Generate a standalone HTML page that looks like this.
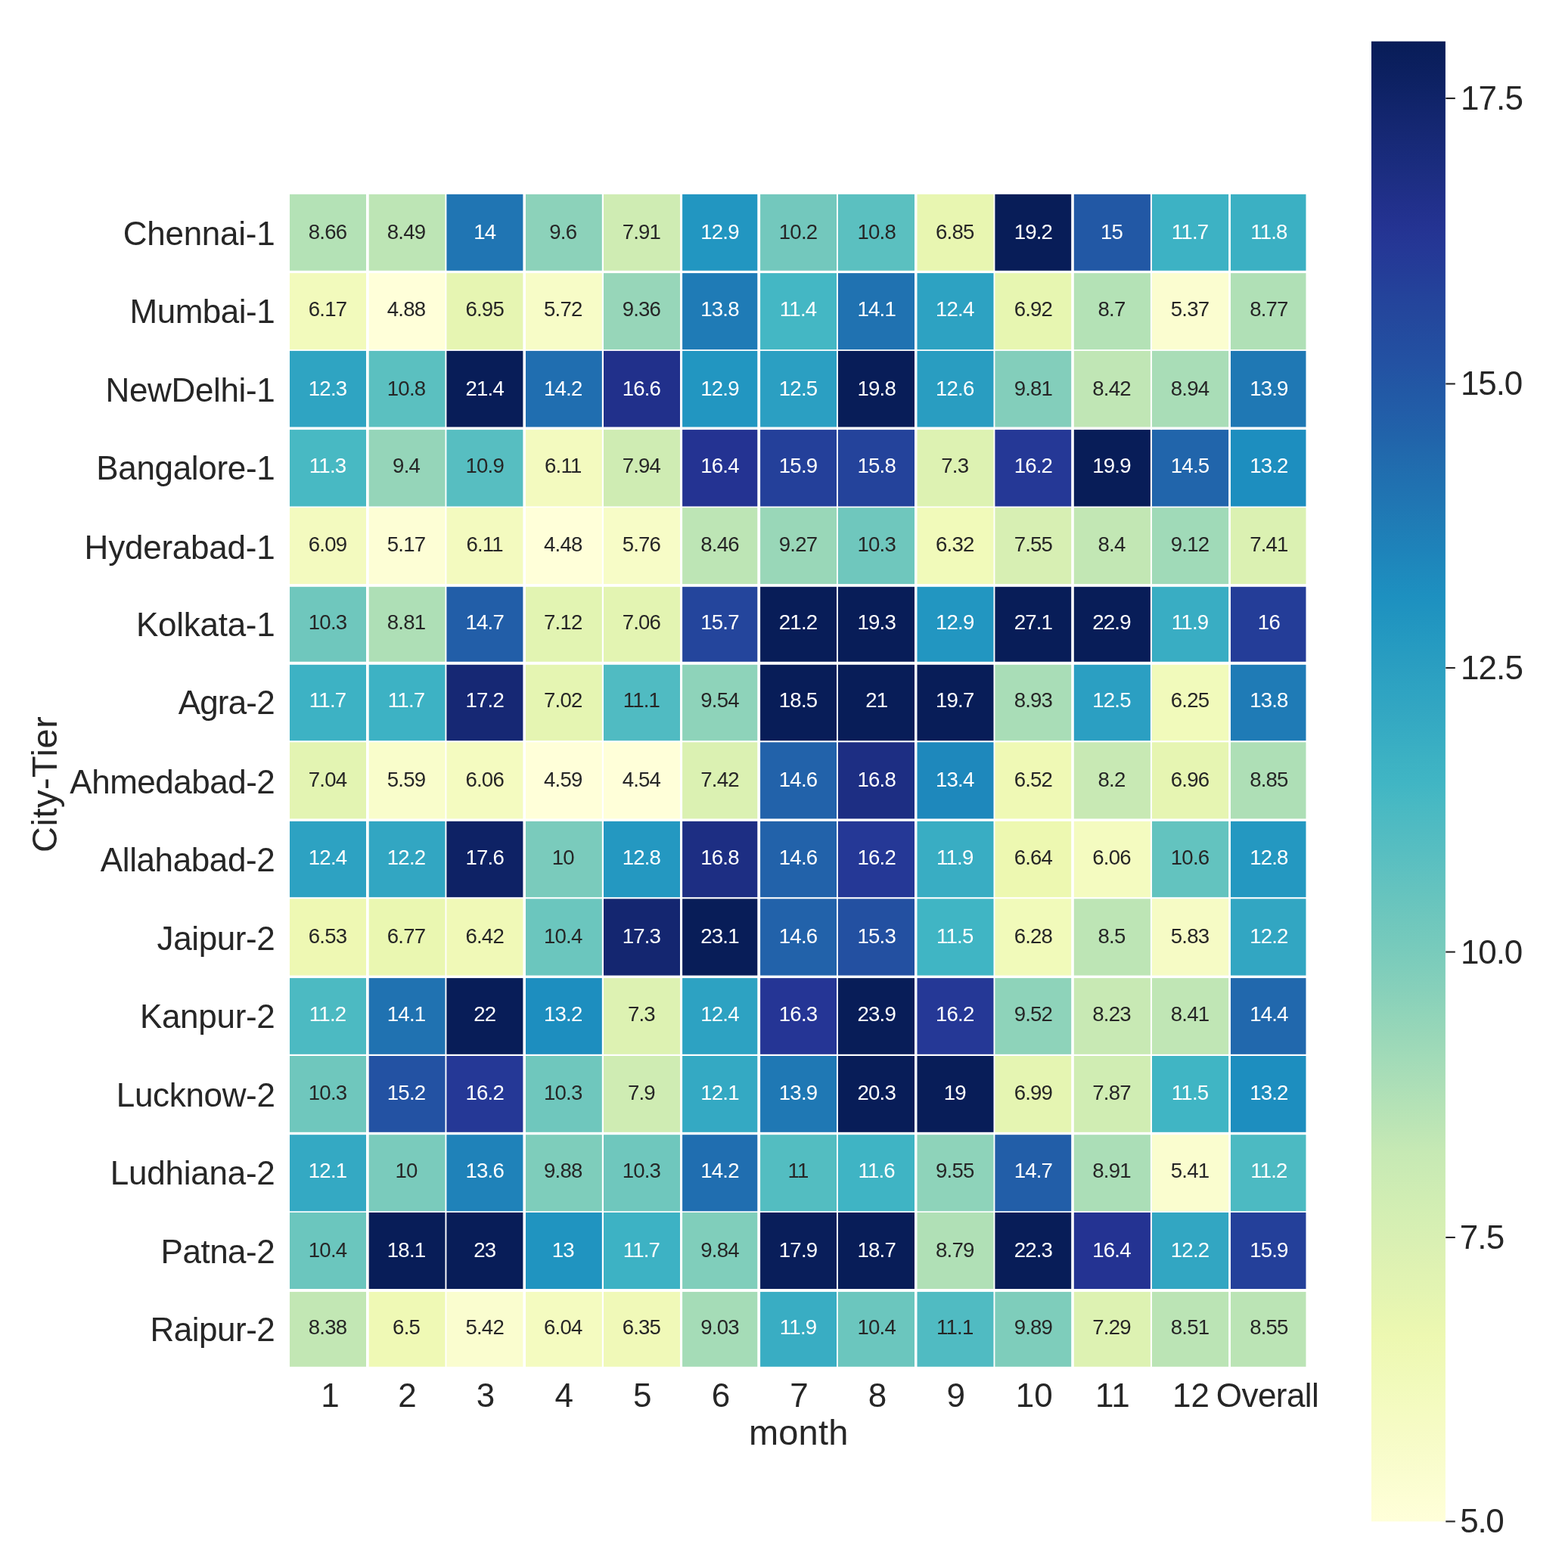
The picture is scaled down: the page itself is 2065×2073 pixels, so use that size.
<!DOCTYPE html>
<html lang="en"><head><meta charset="utf-8"><title>City-Tier by month heatmap</title>
<style>
html,body{margin:0;padding:0;background:#ffffff;}
body{width:2065px;height:2073px;overflow:hidden;font-family:"Liberation Sans", sans-serif;}
svg{display:block;}
</style></head><body>
<svg width="2065" height="2073" viewBox="0 0 2065 2073" font-family='"Liberation Sans", sans-serif'>
<rect width="2065" height="2073" fill="#ffffff"/>
<g>
<rect x="383.00" y="256.85" width="101.00" height="100.95" fill="#b4e2b6"/>
<rect x="487.70" y="256.85" width="100.80" height="100.95" fill="#bde5b5"/>
<rect x="590.40" y="256.85" width="101.00" height="100.95" fill="#2075b3"/>
<rect x="695.00" y="256.85" width="100.80" height="100.95" fill="#8cd2ba"/>
<rect x="798.00" y="256.85" width="101.00" height="100.95" fill="#cfecb3"/>
<rect x="902.10" y="256.85" width="99.20" height="100.95" fill="#2296c1"/>
<rect x="1005.10" y="256.85" width="100.90" height="100.95" fill="#73c8bd"/>
<rect x="1107.90" y="256.85" width="101.10" height="100.95" fill="#5bc0c0"/>
<rect x="1212.50" y="256.85" width="101.00" height="100.95" fill="#e8f6b1"/>
<rect x="1315.40" y="256.85" width="100.80" height="100.95" fill="#081d58"/>
<rect x="1419.80" y="256.85" width="101.10" height="100.95" fill="#2258a5"/>
<rect x="1523.00" y="256.85" width="101.10" height="100.95" fill="#3db2c4"/>
<rect x="1627.00" y="256.85" width="99.50" height="100.95" fill="#3bb0c3"/>
<rect x="383.00" y="361.10" width="101.00" height="101.00" fill="#f2fabc"/>
<rect x="487.70" y="361.10" width="100.80" height="101.00" fill="#ffffd9"/>
<rect x="590.40" y="361.10" width="101.00" height="101.00" fill="#e6f5b2"/>
<rect x="695.00" y="361.10" width="100.80" height="101.00" fill="#f7fcc7"/>
<rect x="798.00" y="361.10" width="101.00" height="101.00" fill="#97d6b9"/>
<rect x="902.10" y="361.10" width="99.20" height="101.00" fill="#1f7bb6"/>
<rect x="1005.10" y="361.10" width="100.90" height="101.00" fill="#44b7c4"/>
<rect x="1107.90" y="361.10" width="101.10" height="101.00" fill="#2072b1"/>
<rect x="1212.50" y="361.10" width="101.00" height="101.00" fill="#2da2c2"/>
<rect x="1315.40" y="361.10" width="100.80" height="101.00" fill="#e7f6b1"/>
<rect x="1419.80" y="361.10" width="101.10" height="101.00" fill="#b4e2b6"/>
<rect x="1523.00" y="361.10" width="101.10" height="101.00" fill="#fbfdd0"/>
<rect x="1627.00" y="361.10" width="99.50" height="101.00" fill="#b0e0b6"/>
<rect x="383.00" y="463.90" width="101.00" height="100.60" fill="#2fa4c2"/>
<rect x="487.70" y="463.90" width="100.80" height="100.60" fill="#5bc0c0"/>
<rect x="590.40" y="463.90" width="101.00" height="100.60" fill="#081d58"/>
<rect x="695.00" y="463.90" width="100.80" height="100.60" fill="#206eb0"/>
<rect x="798.00" y="463.90" width="101.00" height="100.60" fill="#21308b"/>
<rect x="902.10" y="463.90" width="99.20" height="100.60" fill="#2296c1"/>
<rect x="1005.10" y="463.90" width="100.90" height="100.60" fill="#2b9fc2"/>
<rect x="1107.90" y="463.90" width="101.10" height="100.60" fill="#081d58"/>
<rect x="1212.50" y="463.90" width="101.00" height="100.60" fill="#299dc1"/>
<rect x="1315.40" y="463.90" width="100.80" height="100.60" fill="#83cebb"/>
<rect x="1419.80" y="463.90" width="101.10" height="100.60" fill="#c0e6b5"/>
<rect x="1523.00" y="463.90" width="101.10" height="100.60" fill="#a9ddb7"/>
<rect x="1627.00" y="463.90" width="99.50" height="100.60" fill="#1f78b4"/>
<rect x="383.00" y="568.10" width="101.00" height="101.40" fill="#48b9c3"/>
<rect x="487.70" y="568.10" width="100.80" height="101.40" fill="#95d5b9"/>
<rect x="590.40" y="568.10" width="101.00" height="101.40" fill="#57bec1"/>
<rect x="695.00" y="568.10" width="100.80" height="101.40" fill="#f3fabf"/>
<rect x="798.00" y="568.10" width="101.00" height="101.40" fill="#cfecb3"/>
<rect x="902.10" y="568.10" width="99.20" height="101.40" fill="#243392"/>
<rect x="1005.10" y="568.10" width="100.90" height="101.40" fill="#24409a"/>
<rect x="1107.90" y="568.10" width="101.10" height="101.40" fill="#24439b"/>
<rect x="1212.50" y="568.10" width="101.00" height="101.40" fill="#ddf2b2"/>
<rect x="1315.40" y="568.10" width="100.80" height="101.40" fill="#253896"/>
<rect x="1419.80" y="568.10" width="101.10" height="101.40" fill="#081d58"/>
<rect x="1523.00" y="568.10" width="101.10" height="101.40" fill="#2165ab"/>
<rect x="1627.00" y="568.10" width="99.50" height="101.40" fill="#1d8ebf"/>
<rect x="383.00" y="671.20" width="101.00" height="100.90" fill="#f3fabf"/>
<rect x="487.70" y="671.20" width="100.80" height="100.90" fill="#fdfed5"/>
<rect x="590.40" y="671.20" width="101.00" height="100.90" fill="#f3fabf"/>
<rect x="695.00" y="671.20" width="100.80" height="100.90" fill="#ffffd9"/>
<rect x="798.00" y="671.20" width="101.00" height="100.90" fill="#f7fcc7"/>
<rect x="902.10" y="671.20" width="99.20" height="100.90" fill="#bde5b5"/>
<rect x="1005.10" y="671.20" width="100.90" height="100.90" fill="#99d7b8"/>
<rect x="1107.90" y="671.20" width="101.10" height="100.90" fill="#6fc7bd"/>
<rect x="1212.50" y="671.20" width="101.00" height="100.90" fill="#f1faba"/>
<rect x="1315.40" y="671.20" width="100.80" height="100.90" fill="#d7efb3"/>
<rect x="1419.80" y="671.20" width="101.10" height="100.90" fill="#c2e7b4"/>
<rect x="1523.00" y="671.20" width="101.10" height="100.90" fill="#a0dab8"/>
<rect x="1627.00" y="671.20" width="99.50" height="100.90" fill="#dbf1b2"/>
<rect x="383.00" y="775.80" width="101.00" height="99.00" fill="#6fc7bd"/>
<rect x="487.70" y="775.80" width="100.80" height="99.00" fill="#aedfb6"/>
<rect x="590.40" y="775.80" width="101.00" height="99.00" fill="#225ea8"/>
<rect x="695.00" y="775.80" width="100.80" height="99.00" fill="#e2f4b2"/>
<rect x="798.00" y="775.80" width="101.00" height="99.00" fill="#e3f4b2"/>
<rect x="902.10" y="775.80" width="99.20" height="99.00" fill="#24459c"/>
<rect x="1005.10" y="775.80" width="100.90" height="99.00" fill="#081d58"/>
<rect x="1107.90" y="775.80" width="101.10" height="99.00" fill="#081d58"/>
<rect x="1212.50" y="775.80" width="101.00" height="99.00" fill="#2296c1"/>
<rect x="1315.40" y="775.80" width="100.80" height="99.00" fill="#081d58"/>
<rect x="1419.80" y="775.80" width="101.10" height="99.00" fill="#081d58"/>
<rect x="1523.00" y="775.80" width="101.10" height="99.00" fill="#39adc3"/>
<rect x="1627.00" y="775.80" width="99.50" height="99.00" fill="#243d98"/>
<rect x="383.00" y="878.80" width="101.00" height="100.40" fill="#3db2c4"/>
<rect x="487.70" y="878.80" width="100.80" height="100.40" fill="#3db2c4"/>
<rect x="590.40" y="878.80" width="101.00" height="100.40" fill="#162874"/>
<rect x="695.00" y="878.80" width="100.80" height="100.40" fill="#e5f5b2"/>
<rect x="798.00" y="878.80" width="101.00" height="100.40" fill="#50bbc2"/>
<rect x="902.10" y="878.80" width="99.20" height="100.40" fill="#8ed3ba"/>
<rect x="1005.10" y="878.80" width="100.90" height="100.40" fill="#081d58"/>
<rect x="1107.90" y="878.80" width="101.10" height="100.40" fill="#081d58"/>
<rect x="1212.50" y="878.80" width="101.00" height="100.40" fill="#081d58"/>
<rect x="1315.40" y="878.80" width="100.80" height="100.40" fill="#a9ddb7"/>
<rect x="1419.80" y="878.80" width="101.10" height="100.40" fill="#2b9fc2"/>
<rect x="1523.00" y="878.80" width="101.10" height="100.40" fill="#f1fabb"/>
<rect x="1627.00" y="878.80" width="99.50" height="100.40" fill="#1f7bb6"/>
<rect x="383.00" y="981.30" width="101.00" height="101.10" fill="#e3f4b2"/>
<rect x="487.70" y="981.30" width="100.80" height="101.10" fill="#f9fdcb"/>
<rect x="590.40" y="981.30" width="101.00" height="101.10" fill="#f4fbc0"/>
<rect x="695.00" y="981.30" width="100.80" height="101.10" fill="#ffffd9"/>
<rect x="798.00" y="981.30" width="101.00" height="101.10" fill="#ffffd9"/>
<rect x="902.10" y="981.30" width="99.20" height="101.10" fill="#dbf1b2"/>
<rect x="1005.10" y="981.30" width="100.90" height="101.10" fill="#2262aa"/>
<rect x="1107.90" y="981.30" width="101.10" height="101.10" fill="#1d2e83"/>
<rect x="1212.50" y="981.30" width="101.00" height="101.10" fill="#1e88bc"/>
<rect x="1315.40" y="981.30" width="100.80" height="101.10" fill="#eff9b5"/>
<rect x="1419.80" y="981.30" width="101.10" height="101.10" fill="#c8e9b4"/>
<rect x="1523.00" y="981.30" width="101.10" height="101.10" fill="#e6f5b2"/>
<rect x="1627.00" y="981.30" width="99.50" height="101.10" fill="#aedfb6"/>
<rect x="383.00" y="1085.80" width="101.00" height="100.40" fill="#2da2c2"/>
<rect x="487.70" y="1085.80" width="100.80" height="100.40" fill="#32a6c2"/>
<rect x="590.40" y="1085.80" width="101.00" height="100.40" fill="#0e2265"/>
<rect x="695.00" y="1085.80" width="100.80" height="100.40" fill="#7acbbc"/>
<rect x="798.00" y="1085.80" width="101.00" height="100.40" fill="#2498c1"/>
<rect x="902.10" y="1085.80" width="99.20" height="100.40" fill="#1d2e83"/>
<rect x="1005.10" y="1085.80" width="100.90" height="100.40" fill="#2262aa"/>
<rect x="1107.90" y="1085.80" width="101.10" height="100.40" fill="#253896"/>
<rect x="1212.50" y="1085.80" width="101.00" height="100.40" fill="#39adc3"/>
<rect x="1315.40" y="1085.80" width="100.80" height="100.40" fill="#edf8b1"/>
<rect x="1419.80" y="1085.80" width="101.10" height="100.40" fill="#f4fbc0"/>
<rect x="1523.00" y="1085.80" width="101.10" height="100.40" fill="#63c3bf"/>
<rect x="1627.00" y="1085.80" width="99.50" height="100.40" fill="#2498c1"/>
<rect x="383.00" y="1188.30" width="101.00" height="101.30" fill="#eef8b3"/>
<rect x="487.70" y="1188.30" width="100.80" height="101.30" fill="#eaf7b1"/>
<rect x="590.40" y="1188.30" width="101.00" height="101.30" fill="#f0f9b7"/>
<rect x="695.00" y="1188.30" width="100.80" height="101.30" fill="#6bc6be"/>
<rect x="798.00" y="1188.30" width="101.00" height="101.30" fill="#142670"/>
<rect x="902.10" y="1188.30" width="99.20" height="101.30" fill="#081d58"/>
<rect x="1005.10" y="1188.30" width="100.90" height="101.30" fill="#2262aa"/>
<rect x="1107.90" y="1188.30" width="101.10" height="101.30" fill="#2350a1"/>
<rect x="1212.50" y="1188.30" width="101.00" height="101.30" fill="#40b5c4"/>
<rect x="1315.40" y="1188.30" width="100.80" height="101.30" fill="#f1faba"/>
<rect x="1419.80" y="1188.30" width="101.10" height="101.30" fill="#bde5b5"/>
<rect x="1523.00" y="1188.30" width="101.10" height="101.30" fill="#f6fbc5"/>
<rect x="1627.00" y="1188.30" width="99.50" height="101.30" fill="#32a6c2"/>
<rect x="383.00" y="1293.10" width="101.00" height="100.70" fill="#4cbac2"/>
<rect x="487.70" y="1293.10" width="100.80" height="100.70" fill="#2072b1"/>
<rect x="590.40" y="1293.10" width="101.00" height="100.70" fill="#081d58"/>
<rect x="695.00" y="1293.10" width="100.80" height="100.70" fill="#1d8ebf"/>
<rect x="798.00" y="1293.10" width="101.00" height="100.70" fill="#ddf2b2"/>
<rect x="902.10" y="1293.10" width="99.20" height="100.70" fill="#2da2c2"/>
<rect x="1005.10" y="1293.10" width="100.90" height="100.70" fill="#253595"/>
<rect x="1107.90" y="1293.10" width="101.10" height="100.70" fill="#081d58"/>
<rect x="1212.50" y="1293.10" width="101.00" height="100.70" fill="#253896"/>
<rect x="1315.40" y="1293.10" width="100.80" height="100.70" fill="#8ed3ba"/>
<rect x="1419.80" y="1293.10" width="101.10" height="100.70" fill="#c8e9b4"/>
<rect x="1523.00" y="1293.10" width="101.10" height="100.70" fill="#c0e6b5"/>
<rect x="1627.00" y="1293.10" width="99.50" height="100.70" fill="#2168ad"/>
<rect x="383.00" y="1396.00" width="101.00" height="100.80" fill="#6fc7bd"/>
<rect x="487.70" y="1396.00" width="100.80" height="100.80" fill="#2352a3"/>
<rect x="590.40" y="1396.00" width="101.00" height="100.80" fill="#253896"/>
<rect x="695.00" y="1396.00" width="100.80" height="100.80" fill="#6fc7bd"/>
<rect x="798.00" y="1396.00" width="101.00" height="100.80" fill="#cfecb3"/>
<rect x="902.10" y="1396.00" width="99.20" height="100.80" fill="#34a9c3"/>
<rect x="1005.10" y="1396.00" width="100.90" height="100.80" fill="#1f78b4"/>
<rect x="1107.90" y="1396.00" width="101.10" height="100.80" fill="#081d58"/>
<rect x="1212.50" y="1396.00" width="101.00" height="100.80" fill="#081d58"/>
<rect x="1315.40" y="1396.00" width="100.80" height="100.80" fill="#e5f5b2"/>
<rect x="1419.80" y="1396.00" width="101.10" height="100.80" fill="#d0edb3"/>
<rect x="1523.00" y="1396.00" width="101.10" height="100.80" fill="#40b5c4"/>
<rect x="1627.00" y="1396.00" width="99.50" height="100.80" fill="#1d8ebf"/>
<rect x="383.00" y="1500.20" width="101.00" height="101.10" fill="#34a9c3"/>
<rect x="487.70" y="1500.20" width="100.80" height="101.10" fill="#7acbbc"/>
<rect x="590.40" y="1500.20" width="101.00" height="101.10" fill="#1f82b9"/>
<rect x="695.00" y="1500.20" width="100.80" height="101.10" fill="#7ecdbb"/>
<rect x="798.00" y="1500.20" width="101.00" height="101.10" fill="#6fc7bd"/>
<rect x="902.10" y="1500.20" width="99.20" height="101.10" fill="#206eb0"/>
<rect x="1005.10" y="1500.20" width="100.90" height="101.10" fill="#53bdc1"/>
<rect x="1107.90" y="1500.20" width="101.10" height="101.10" fill="#3fb4c4"/>
<rect x="1212.50" y="1500.20" width="101.00" height="101.10" fill="#8ed3ba"/>
<rect x="1315.40" y="1500.20" width="100.80" height="101.10" fill="#225ea8"/>
<rect x="1419.80" y="1500.20" width="101.10" height="101.10" fill="#abdeb7"/>
<rect x="1523.00" y="1500.20" width="101.10" height="101.10" fill="#fafdcf"/>
<rect x="1627.00" y="1500.20" width="99.50" height="101.10" fill="#4cbac2"/>
<rect x="383.00" y="1603.00" width="101.00" height="101.00" fill="#6bc6be"/>
<rect x="487.70" y="1603.00" width="100.80" height="101.00" fill="#081d58"/>
<rect x="590.40" y="1603.00" width="101.00" height="101.00" fill="#081d58"/>
<rect x="695.00" y="1603.00" width="100.80" height="101.00" fill="#2094c0"/>
<rect x="798.00" y="1603.00" width="101.00" height="101.00" fill="#3db2c4"/>
<rect x="902.10" y="1603.00" width="99.20" height="101.00" fill="#80cebb"/>
<rect x="1005.10" y="1603.00" width="100.90" height="101.00" fill="#091e5a"/>
<rect x="1107.90" y="1603.00" width="101.10" height="101.00" fill="#081d58"/>
<rect x="1212.50" y="1603.00" width="101.00" height="101.00" fill="#b0e0b6"/>
<rect x="1315.40" y="1603.00" width="100.80" height="101.00" fill="#081d58"/>
<rect x="1419.80" y="1603.00" width="101.10" height="101.00" fill="#243392"/>
<rect x="1523.00" y="1603.00" width="101.10" height="101.00" fill="#32a6c2"/>
<rect x="1627.00" y="1603.00" width="99.50" height="101.00" fill="#24409a"/>
<rect x="383.00" y="1707.90" width="101.00" height="98.95" fill="#c2e7b4"/>
<rect x="487.70" y="1707.90" width="100.80" height="98.95" fill="#eff9b5"/>
<rect x="590.40" y="1707.90" width="101.00" height="98.95" fill="#fafdcf"/>
<rect x="695.00" y="1707.90" width="100.80" height="98.95" fill="#f4fbc0"/>
<rect x="798.00" y="1707.90" width="101.00" height="98.95" fill="#f0f9b8"/>
<rect x="902.10" y="1707.90" width="99.20" height="98.95" fill="#a5dcb7"/>
<rect x="1005.10" y="1707.90" width="100.90" height="98.95" fill="#39adc3"/>
<rect x="1107.90" y="1707.90" width="101.10" height="98.95" fill="#6bc6be"/>
<rect x="1212.50" y="1707.90" width="101.00" height="98.95" fill="#50bbc2"/>
<rect x="1315.40" y="1707.90" width="100.80" height="98.95" fill="#7ecdbb"/>
<rect x="1419.80" y="1707.90" width="101.10" height="98.95" fill="#ddf2b2"/>
<rect x="1523.00" y="1707.90" width="101.10" height="98.95" fill="#bbe4b5"/>
<rect x="1627.00" y="1707.90" width="99.50" height="98.95" fill="#bbe4b5"/>
</g>
<g font-size="27.6" text-anchor="middle" letter-spacing="-0.8">
<text x="433.10" y="315.50" fill="#262626">8.66</text>
<text x="537.10" y="315.50" fill="#262626">8.49</text>
<text x="640.70" y="315.50" fill="#ffffff">14</text>
<text x="744.30" y="315.50" fill="#262626">9.6</text>
<text x="847.90" y="315.50" fill="#262626">7.91</text>
<text x="951.50" y="315.50" fill="#ffffff">12.9</text>
<text x="1055.10" y="315.50" fill="#262626">10.2</text>
<text x="1158.70" y="315.50" fill="#262626">10.8</text>
<text x="1262.30" y="315.50" fill="#262626">6.85</text>
<text x="1365.90" y="315.50" fill="#ffffff">19.2</text>
<text x="1469.50" y="315.50" fill="#ffffff">15</text>
<text x="1573.10" y="315.50" fill="#ffffff">11.7</text>
<text x="1677.40" y="315.50" fill="#ffffff">11.8</text>
<text x="433.10" y="417.80" fill="#262626">6.17</text>
<text x="537.10" y="417.80" fill="#262626">4.88</text>
<text x="640.70" y="417.80" fill="#262626">6.95</text>
<text x="744.30" y="417.80" fill="#262626">5.72</text>
<text x="847.90" y="417.80" fill="#262626">9.36</text>
<text x="951.50" y="417.80" fill="#ffffff">13.8</text>
<text x="1055.10" y="417.80" fill="#ffffff">11.4</text>
<text x="1158.70" y="417.80" fill="#ffffff">14.1</text>
<text x="1262.30" y="417.80" fill="#ffffff">12.4</text>
<text x="1365.90" y="417.80" fill="#262626">6.92</text>
<text x="1469.50" y="417.80" fill="#262626">8.7</text>
<text x="1573.10" y="417.80" fill="#262626">5.37</text>
<text x="1677.40" y="417.80" fill="#262626">8.77</text>
<text x="433.10" y="522.90" fill="#ffffff">12.3</text>
<text x="537.10" y="522.90" fill="#262626">10.8</text>
<text x="640.70" y="522.90" fill="#ffffff">21.4</text>
<text x="744.30" y="522.90" fill="#ffffff">14.2</text>
<text x="847.90" y="522.90" fill="#ffffff">16.6</text>
<text x="951.50" y="522.90" fill="#ffffff">12.9</text>
<text x="1055.10" y="522.90" fill="#ffffff">12.5</text>
<text x="1158.70" y="522.90" fill="#ffffff">19.8</text>
<text x="1262.30" y="522.90" fill="#ffffff">12.6</text>
<text x="1365.90" y="522.90" fill="#262626">9.81</text>
<text x="1469.50" y="522.90" fill="#262626">8.42</text>
<text x="1573.10" y="522.90" fill="#262626">8.94</text>
<text x="1677.40" y="522.90" fill="#ffffff">13.9</text>
<text x="433.10" y="624.80" fill="#ffffff">11.3</text>
<text x="537.10" y="624.80" fill="#262626">9.4</text>
<text x="640.70" y="624.80" fill="#262626">10.9</text>
<text x="744.30" y="624.80" fill="#262626">6.11</text>
<text x="847.90" y="624.80" fill="#262626">7.94</text>
<text x="951.50" y="624.80" fill="#ffffff">16.4</text>
<text x="1055.10" y="624.80" fill="#ffffff">15.9</text>
<text x="1158.70" y="624.80" fill="#ffffff">15.8</text>
<text x="1262.30" y="624.80" fill="#262626">7.3</text>
<text x="1365.90" y="624.80" fill="#ffffff">16.2</text>
<text x="1469.50" y="624.80" fill="#ffffff">19.9</text>
<text x="1573.10" y="624.80" fill="#ffffff">14.5</text>
<text x="1677.40" y="624.80" fill="#ffffff">13.2</text>
<text x="433.10" y="729.40" fill="#262626">6.09</text>
<text x="537.10" y="729.40" fill="#262626">5.17</text>
<text x="640.70" y="729.40" fill="#262626">6.11</text>
<text x="744.30" y="729.40" fill="#262626">4.48</text>
<text x="847.90" y="729.40" fill="#262626">5.76</text>
<text x="951.50" y="729.40" fill="#262626">8.46</text>
<text x="1055.10" y="729.40" fill="#262626">9.27</text>
<text x="1158.70" y="729.40" fill="#262626">10.3</text>
<text x="1262.30" y="729.40" fill="#262626">6.32</text>
<text x="1365.90" y="729.40" fill="#262626">7.55</text>
<text x="1469.50" y="729.40" fill="#262626">8.4</text>
<text x="1573.10" y="729.40" fill="#262626">9.12</text>
<text x="1677.40" y="729.40" fill="#262626">7.41</text>
<text x="433.10" y="832.30" fill="#262626">10.3</text>
<text x="537.10" y="832.30" fill="#262626">8.81</text>
<text x="640.70" y="832.30" fill="#ffffff">14.7</text>
<text x="744.30" y="832.30" fill="#262626">7.12</text>
<text x="847.90" y="832.30" fill="#262626">7.06</text>
<text x="951.50" y="832.30" fill="#ffffff">15.7</text>
<text x="1055.10" y="832.30" fill="#ffffff">21.2</text>
<text x="1158.70" y="832.30" fill="#ffffff">19.3</text>
<text x="1262.30" y="832.30" fill="#ffffff">12.9</text>
<text x="1365.90" y="832.30" fill="#ffffff">27.1</text>
<text x="1469.50" y="832.30" fill="#ffffff">22.9</text>
<text x="1573.10" y="832.30" fill="#ffffff">11.9</text>
<text x="1677.40" y="832.30" fill="#ffffff">16</text>
<text x="433.10" y="935.40" fill="#ffffff">11.7</text>
<text x="537.10" y="935.40" fill="#ffffff">11.7</text>
<text x="640.70" y="935.40" fill="#ffffff">17.2</text>
<text x="744.30" y="935.40" fill="#262626">7.02</text>
<text x="847.90" y="935.40" fill="#262626">11.1</text>
<text x="951.50" y="935.40" fill="#262626">9.54</text>
<text x="1055.10" y="935.40" fill="#ffffff">18.5</text>
<text x="1158.70" y="935.40" fill="#ffffff">21</text>
<text x="1262.30" y="935.40" fill="#ffffff">19.7</text>
<text x="1365.90" y="935.40" fill="#262626">8.93</text>
<text x="1469.50" y="935.40" fill="#ffffff">12.5</text>
<text x="1573.10" y="935.40" fill="#262626">6.25</text>
<text x="1677.40" y="935.40" fill="#ffffff">13.8</text>
<text x="433.10" y="1039.90" fill="#262626">7.04</text>
<text x="537.10" y="1039.90" fill="#262626">5.59</text>
<text x="640.70" y="1039.90" fill="#262626">6.06</text>
<text x="744.30" y="1039.90" fill="#262626">4.59</text>
<text x="847.90" y="1039.90" fill="#262626">4.54</text>
<text x="951.50" y="1039.90" fill="#262626">7.42</text>
<text x="1055.10" y="1039.90" fill="#ffffff">14.6</text>
<text x="1158.70" y="1039.90" fill="#ffffff">16.8</text>
<text x="1262.30" y="1039.90" fill="#ffffff">13.4</text>
<text x="1365.90" y="1039.90" fill="#262626">6.52</text>
<text x="1469.50" y="1039.90" fill="#262626">8.2</text>
<text x="1573.10" y="1039.90" fill="#262626">6.96</text>
<text x="1677.40" y="1039.90" fill="#262626">8.85</text>
<text x="433.10" y="1142.80" fill="#ffffff">12.4</text>
<text x="537.10" y="1142.80" fill="#ffffff">12.2</text>
<text x="640.70" y="1142.80" fill="#ffffff">17.6</text>
<text x="744.30" y="1142.80" fill="#262626">10</text>
<text x="847.90" y="1142.80" fill="#ffffff">12.8</text>
<text x="951.50" y="1142.80" fill="#ffffff">16.8</text>
<text x="1055.10" y="1142.80" fill="#ffffff">14.6</text>
<text x="1158.70" y="1142.80" fill="#ffffff">16.2</text>
<text x="1262.30" y="1142.80" fill="#ffffff">11.9</text>
<text x="1365.90" y="1142.80" fill="#262626">6.64</text>
<text x="1469.50" y="1142.80" fill="#262626">6.06</text>
<text x="1573.10" y="1142.80" fill="#262626">10.6</text>
<text x="1677.40" y="1142.80" fill="#ffffff">12.8</text>
<text x="433.10" y="1247.00" fill="#262626">6.53</text>
<text x="537.10" y="1247.00" fill="#262626">6.77</text>
<text x="640.70" y="1247.00" fill="#262626">6.42</text>
<text x="744.30" y="1247.00" fill="#262626">10.4</text>
<text x="847.90" y="1247.00" fill="#ffffff">17.3</text>
<text x="951.50" y="1247.00" fill="#ffffff">23.1</text>
<text x="1055.10" y="1247.00" fill="#ffffff">14.6</text>
<text x="1158.70" y="1247.00" fill="#ffffff">15.3</text>
<text x="1262.30" y="1247.00" fill="#ffffff">11.5</text>
<text x="1365.90" y="1247.00" fill="#262626">6.28</text>
<text x="1469.50" y="1247.00" fill="#262626">8.5</text>
<text x="1573.10" y="1247.00" fill="#262626">5.83</text>
<text x="1677.40" y="1247.00" fill="#ffffff">12.2</text>
<text x="433.10" y="1350.30" fill="#ffffff">11.2</text>
<text x="537.10" y="1350.30" fill="#ffffff">14.1</text>
<text x="640.70" y="1350.30" fill="#ffffff">22</text>
<text x="744.30" y="1350.30" fill="#ffffff">13.2</text>
<text x="847.90" y="1350.30" fill="#262626">7.3</text>
<text x="951.50" y="1350.30" fill="#ffffff">12.4</text>
<text x="1055.10" y="1350.30" fill="#ffffff">16.3</text>
<text x="1158.70" y="1350.30" fill="#ffffff">23.9</text>
<text x="1262.30" y="1350.30" fill="#ffffff">16.2</text>
<text x="1365.90" y="1350.30" fill="#262626">9.52</text>
<text x="1469.50" y="1350.30" fill="#262626">8.23</text>
<text x="1573.10" y="1350.30" fill="#262626">8.41</text>
<text x="1677.40" y="1350.30" fill="#ffffff">14.4</text>
<text x="433.10" y="1453.80" fill="#262626">10.3</text>
<text x="537.10" y="1453.80" fill="#ffffff">15.2</text>
<text x="640.70" y="1453.80" fill="#ffffff">16.2</text>
<text x="744.30" y="1453.80" fill="#262626">10.3</text>
<text x="847.90" y="1453.80" fill="#262626">7.9</text>
<text x="951.50" y="1453.80" fill="#ffffff">12.1</text>
<text x="1055.10" y="1453.80" fill="#ffffff">13.9</text>
<text x="1158.70" y="1453.80" fill="#ffffff">20.3</text>
<text x="1262.30" y="1453.80" fill="#ffffff">19</text>
<text x="1365.90" y="1453.80" fill="#262626">6.99</text>
<text x="1469.50" y="1453.80" fill="#262626">7.87</text>
<text x="1573.10" y="1453.80" fill="#ffffff">11.5</text>
<text x="1677.40" y="1453.80" fill="#ffffff">13.2</text>
<text x="433.10" y="1557.00" fill="#ffffff">12.1</text>
<text x="537.10" y="1557.00" fill="#262626">10</text>
<text x="640.70" y="1557.00" fill="#ffffff">13.6</text>
<text x="744.30" y="1557.00" fill="#262626">9.88</text>
<text x="847.90" y="1557.00" fill="#262626">10.3</text>
<text x="951.50" y="1557.00" fill="#ffffff">14.2</text>
<text x="1055.10" y="1557.00" fill="#262626">11</text>
<text x="1158.70" y="1557.00" fill="#ffffff">11.6</text>
<text x="1262.30" y="1557.00" fill="#262626">9.55</text>
<text x="1365.90" y="1557.00" fill="#ffffff">14.7</text>
<text x="1469.50" y="1557.00" fill="#262626">8.91</text>
<text x="1573.10" y="1557.00" fill="#262626">5.41</text>
<text x="1677.40" y="1557.00" fill="#ffffff">11.2</text>
<text x="433.10" y="1661.60" fill="#262626">10.4</text>
<text x="537.10" y="1661.60" fill="#ffffff">18.1</text>
<text x="640.70" y="1661.60" fill="#ffffff">23</text>
<text x="744.30" y="1661.60" fill="#ffffff">13</text>
<text x="847.90" y="1661.60" fill="#ffffff">11.7</text>
<text x="951.50" y="1661.60" fill="#262626">9.84</text>
<text x="1055.10" y="1661.60" fill="#ffffff">17.9</text>
<text x="1158.70" y="1661.60" fill="#ffffff">18.7</text>
<text x="1262.30" y="1661.60" fill="#262626">8.79</text>
<text x="1365.90" y="1661.60" fill="#ffffff">22.3</text>
<text x="1469.50" y="1661.60" fill="#ffffff">16.4</text>
<text x="1573.10" y="1661.60" fill="#ffffff">12.2</text>
<text x="1677.40" y="1661.60" fill="#ffffff">15.9</text>
<text x="433.10" y="1764.00" fill="#262626">8.38</text>
<text x="537.10" y="1764.00" fill="#262626">6.5</text>
<text x="640.70" y="1764.00" fill="#262626">5.42</text>
<text x="744.30" y="1764.00" fill="#262626">6.04</text>
<text x="847.90" y="1764.00" fill="#262626">6.35</text>
<text x="951.50" y="1764.00" fill="#262626">9.03</text>
<text x="1055.10" y="1764.00" fill="#ffffff">11.9</text>
<text x="1158.70" y="1764.00" fill="#262626">10.4</text>
<text x="1262.30" y="1764.00" fill="#262626">11.1</text>
<text x="1365.90" y="1764.00" fill="#262626">9.89</text>
<text x="1469.50" y="1764.00" fill="#262626">7.29</text>
<text x="1573.10" y="1764.00" fill="#262626">8.51</text>
<text x="1677.40" y="1764.00" fill="#262626">8.55</text>
</g>
<g fill="#262626">
<text x="162.75" y="323.90" font-size="44" letter-spacing="-0.269" >Chennai-1</text>
<text x="171.50" y="427.00" font-size="44" letter-spacing="-0.486" >Mumbai-1</text>
<text x="139.60" y="531.00" font-size="44" letter-spacing="-0.361" >NewDelhi-1</text>
<text x="127.20" y="633.90" font-size="44" letter-spacing="-0.310" >Bangalore-1</text>
<text x="111.60" y="738.80" font-size="44" letter-spacing="-0.225" >Hyderabad-1</text>
<text x="179.90" y="841.30" font-size="44" letter-spacing="-0.256" >Kolkata-1</text>
<text x="235.65" y="944.10" font-size="44" letter-spacing="-0.810" >Agra-2</text>
<text x="92.35" y="1048.80" font-size="44" letter-spacing="-0.500" >Ahmedabad-2</text>
<text x="132.85" y="1151.70" font-size="44" letter-spacing="-0.400" >Allahabad-2</text>
<text x="207.55" y="1256.00" font-size="44" letter-spacing="-0.386" >Jaipur-2</text>
<text x="184.90" y="1359.10" font-size="44" letter-spacing="-0.293" >Kanpur-2</text>
<text x="153.80" y="1463.30" font-size="44" letter-spacing="-0.337" >Lucknow-2</text>
<text x="145.70" y="1566.00" font-size="44" letter-spacing="-0.233" >Ludhiana-2</text>
<text x="212.60" y="1670.20" font-size="44" letter-spacing="-0.500" >Patna-2</text>
<text x="198.40" y="1773.30" font-size="44" letter-spacing="-0.471" >Raipur-2</text>
</g>
<g font-size="44" text-anchor="middle" fill="#262626">
<text x="436.40" y="1860">1</text>
<text x="538.50" y="1860">2</text>
<text x="642.10" y="1860">3</text>
<text x="745.70" y="1860">4</text>
<text x="849.30" y="1860">5</text>
<text x="952.90" y="1860">6</text>
<text x="1056.50" y="1860">7</text>
<text x="1160.10" y="1860">8</text>
<text x="1263.70" y="1860">9</text>
<text x="1367.30" y="1860">10</text>
<text x="1470.90" y="1860">11</text>
<text x="1574.50" y="1860">12</text>
</g>
<g fill="#262626"><text x="1607.80" y="1860.00" font-size="44" letter-spacing="-0.550" >Overall</text></g>
<g fill="#262626"><text x="989.95" y="1909.60" font-size="47" letter-spacing="0.188" >month</text></g>
<g fill="#262626" transform="translate(74.6,1127.00) rotate(-90)"><text x="0" y="0" font-size="47" letter-spacing="0.500">City-Tier</text></g>
<defs><linearGradient id="cb" x1="0" y1="0" x2="0" y2="1"><stop offset="0.00000" stop-color="#081d58"/><stop offset="0.01562" stop-color="#0b1f5e"/><stop offset="0.03125" stop-color="#0e2265"/><stop offset="0.04688" stop-color="#12256d"/><stop offset="0.06250" stop-color="#162874"/><stop offset="0.07812" stop-color="#192b7c"/><stop offset="0.09375" stop-color="#1d2e83"/><stop offset="0.10938" stop-color="#21308b"/><stop offset="0.12500" stop-color="#243392"/><stop offset="0.14062" stop-color="#253896"/><stop offset="0.15625" stop-color="#243d98"/><stop offset="0.17188" stop-color="#24439b"/><stop offset="0.18750" stop-color="#24489d"/><stop offset="0.20312" stop-color="#234da0"/><stop offset="0.21875" stop-color="#2352a3"/><stop offset="0.23438" stop-color="#2258a5"/><stop offset="0.25000" stop-color="#225da8"/><stop offset="0.26562" stop-color="#2163aa"/><stop offset="0.28125" stop-color="#216aad"/><stop offset="0.29688" stop-color="#2070b0"/><stop offset="0.31250" stop-color="#2076b3"/><stop offset="0.32812" stop-color="#1f7db6"/><stop offset="0.34375" stop-color="#1e83ba"/><stop offset="0.35938" stop-color="#1e8abd"/><stop offset="0.37500" stop-color="#1d90c0"/><stop offset="0.39062" stop-color="#2195c0"/><stop offset="0.40625" stop-color="#259ac1"/><stop offset="0.42188" stop-color="#2a9ec1"/><stop offset="0.43750" stop-color="#2ea3c2"/><stop offset="0.45312" stop-color="#33a7c2"/><stop offset="0.46875" stop-color="#37acc3"/><stop offset="0.48438" stop-color="#3cb1c3"/><stop offset="0.50000" stop-color="#40b5c4"/><stop offset="0.51562" stop-color="#48b9c3"/><stop offset="0.53125" stop-color="#50bbc2"/><stop offset="0.54688" stop-color="#57bec1"/><stop offset="0.56250" stop-color="#5fc1c0"/><stop offset="0.57812" stop-color="#67c4be"/><stop offset="0.59375" stop-color="#6fc7bd"/><stop offset="0.60938" stop-color="#76cabc"/><stop offset="0.62500" stop-color="#7ecdbb"/><stop offset="0.64062" stop-color="#87d0ba"/><stop offset="0.65625" stop-color="#90d4b9"/><stop offset="0.67188" stop-color="#99d7b8"/><stop offset="0.68750" stop-color="#a2dbb8"/><stop offset="0.70312" stop-color="#abdeb7"/><stop offset="0.71875" stop-color="#b4e2b6"/><stop offset="0.73438" stop-color="#bde5b5"/><stop offset="0.75000" stop-color="#c6e9b4"/><stop offset="0.76562" stop-color="#cbebb4"/><stop offset="0.78125" stop-color="#d0edb3"/><stop offset="0.79688" stop-color="#d5efb3"/><stop offset="0.81250" stop-color="#daf0b3"/><stop offset="0.82812" stop-color="#dff2b2"/><stop offset="0.84375" stop-color="#e3f4b2"/><stop offset="0.85938" stop-color="#e8f6b1"/><stop offset="0.87500" stop-color="#edf8b1"/><stop offset="0.89062" stop-color="#eff9b6"/><stop offset="0.90625" stop-color="#f1fabb"/><stop offset="0.92188" stop-color="#f4fbc0"/><stop offset="0.93750" stop-color="#f6fbc5"/><stop offset="0.95312" stop-color="#f8fcca"/><stop offset="0.96875" stop-color="#fafdcf"/><stop offset="0.98438" stop-color="#fdfed4"/><stop offset="1.00000" stop-color="#ffffd9"/></linearGradient></defs>
<rect x="1813.0" y="54.69" width="97.90" height="1956.76" fill="url(#cb)"/>
<g fill="#262626">
<line x1="1911.30" x2="1923.80" y1="2011.45" y2="2011.45" stroke="#262626" stroke-width="2.1"/>
<text x="1930.25" y="2026.40" font-size="44" letter-spacing="-1.325" >5.0</text>
<line x1="1911.30" x2="1923.80" y1="1635.95" y2="1635.95" stroke="#262626" stroke-width="2.1"/>
<text x="1929.65" y="1651.00" font-size="44" letter-spacing="-0.800" >7.5</text>
<line x1="1911.30" x2="1923.80" y1="1258.55" y2="1258.55" stroke="#262626" stroke-width="2.1"/>
<text x="1930.95" y="1273.80" font-size="44" letter-spacing="-1.117" >10.0</text>
<line x1="1911.30" x2="1923.80" y1="882.96" y2="882.96" stroke="#262626" stroke-width="2.1"/>
<text x="1930.95" y="897.90" font-size="44" letter-spacing="-0.900" >12.5</text>
<line x1="1911.30" x2="1923.80" y1="507.45" y2="507.45" stroke="#262626" stroke-width="2.1"/>
<text x="1930.95" y="522.40" font-size="44" letter-spacing="-1.117" >15.0</text>
<line x1="1911.30" x2="1923.80" y1="130.00" y2="130.00" stroke="#262626" stroke-width="2.1"/>
<text x="1930.95" y="144.90" font-size="44" letter-spacing="-0.900" >17.5</text>
</g>
</svg>
</body></html>
